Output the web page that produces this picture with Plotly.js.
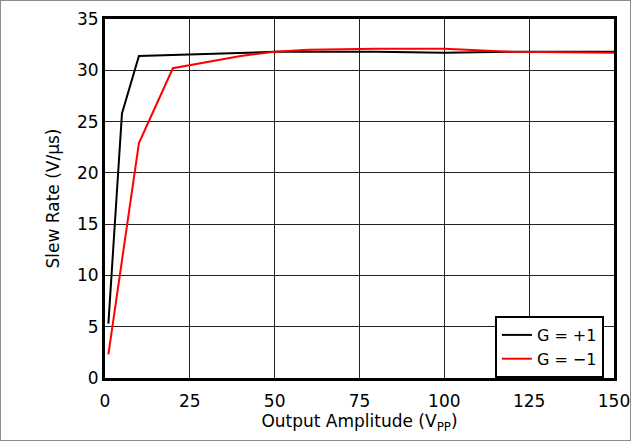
<!DOCTYPE html>
<html><head><meta charset="utf-8">
<script src="https://cdn.plot.ly/plotly-3.0.1.min.js"></script>
<style>
html,body{margin:0;padding:0;background:#fff;}
#wrap{width:629px;height:439px;border:1px solid #8c8c8c;}
#chart{width:629px;height:439px;}
</style></head>
<body><div id="wrap"><div id="chart"></div></div>
<script>
const ampPos = [1, 5, 10, 20, 40, 50, 60, 80, 100, 120, 150];
const ratePos = [5.3, 25.8, 31.4, 31.5, 31.7, 31.8, 31.8, 31.8, 31.7, 31.8, 31.8];
const ampNeg = [1, 10, 20, 40, 50, 60, 80, 100, 120, 150];
const rateNeg = [2.3, 22.9, 30.2, 31.4, 31.8, 32.0, 32.1, 32.1, 31.8, 31.7];
const xTicks = [0, 25, 50, 75, 100, 125, 150];
const yTicks = [0, 5, 10, 15, 20, 25, 30, 35];

const font = {family: '"DejaVu Sans", Arial, sans-serif', size: 17, color: '#000'};
const legendFont = {family: '"DejaVu Sans", Arial, sans-serif', size: 16, color: '#000'};
const traces = [
  {x: ampPos, y: ratePos, mode: 'lines', name: 'G = +1', line: {color: '#000000', width: 2}},
  {x: ampNeg, y: rateNeg, mode: 'lines', name: 'G = \u22121', line: {color: '#ff0000', width: 2}}
];
const axisCommon = {
  showgrid: true, gridcolor: '#222', gridwidth: 1,
  showline: true, linecolor: '#000', linewidth: 3, mirror: true,
  zeroline: false, ticks: '', tickfont: font, ticklen: 0, ticklabeloverflow: 'allow'
};
const layout = {
  width: 629, height: 439,
  margin: {l: 104, r: 16, t: 18, b: 62},
  paper_bgcolor: '#fff', plot_bgcolor: '#fff',
  font: font,
  showlegend: true,
  legend: {x: 0.766, y: 0, xanchor: 'left', yanchor: 'bottom', bgcolor: '#fff',
           bordercolor: '#000', borderwidth: 2, font: legendFont, tracegroupgap: 0},
  xaxis: Object.assign({}, axisCommon, {range: [0, 150], tickvals: xTicks, ticktext: xTicks.map(String),
    ticklabelstandoff: 6,
    title: {text: 'Output Amplitude (V<sub>PP</sub>)', font: font, standoff: 4}}),
  yaxis: Object.assign({}, axisCommon, {range: [0, 35], tickvals: yTicks, ticktext: yTicks.map(String),
    ticklabelstandoff: 0,
    title: {text: 'Slew Rate (V/\u00b5s)', font: font, standoff: 14}})
};
Plotly.newPlot('chart', traces, layout, {displayModeBar: false, staticPlot: true});
</script></body></html>
